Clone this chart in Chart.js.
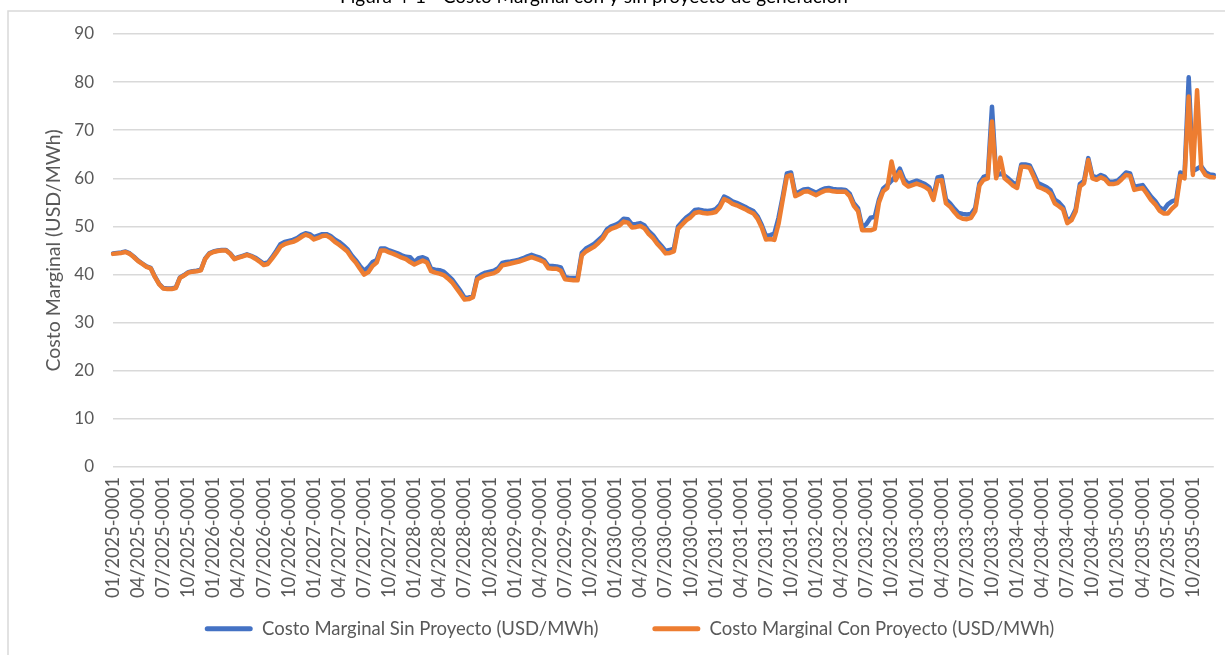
<!DOCTYPE html>
<html><head><meta charset="utf-8">
<script src="https://cdn.jsdelivr.net/npm/chart.js@4.4.1/dist/chart.umd.min.js"></script>
<style>html,body{margin:0;padding:0;background:#fff}#wrap{width:1225px;height:655px;position:relative}</style>
</head><body><div id="wrap"><canvas id="c" width="1225" height="655"></canvas></div>
<script>
const titleText = 'Figura 4-1 - Costo Marginal con y sin proyecto de generación';
const yTitle = 'Costo Marginal (USD/MWh)';
const labelSin = 'Costo Marginal Sin Proyecto (USD/MWh)';
const labelCon = 'Costo Marginal Con Proyecto (USD/MWh)';
const years = [2025,2026,2027,2028,2029,2030,2031,2032,2033,2034,2035];
const months = ['01','02','03','04','05','06','07','08','09','10','11','12'];
const blocks = ['0001','0002'];
const yTicks = [0,10,20,30,40,50,60,70,80,90];

// semi-monthly values, 2025 .. 2035 (24 per year)
const sinProyecto = [
 44.4,44.5,44.6,44.8,44.4,43.7,42.9,42.3,41.7,41.4,39.6,38.1,37.2,37.1,37.1,37.3,39.4,39.9,40.5,40.7,40.8,41.0,43.3,44.4,
 44.8,45.0,45.1,45.1,44.4,43.3,43.6,43.9,44.2,43.9,43.5,42.9,42.3,42.5,43.6,44.9,46.3,46.8,47.0,47.2,47.6,48.2,48.6,48.4,
 47.8,48.1,48.4,48.4,48.0,47.3,46.8,46.1,45.3,44.0,43.0,41.8,40.8,41.5,42.6,43.0,45.4,45.4,45.0,44.7,44.4,44.0,43.7,43.6,
 42.6,43.4,43.6,43.2,41.2,41.0,40.9,40.6,39.8,39.0,37.8,36.6,35.2,35.2,35.6,39.4,40.0,40.4,40.6,40.8,41.3,42.4,42.6,42.7,
 42.9,43.1,43.4,43.8,44.1,43.8,43.5,43.0,41.8,41.8,41.7,41.5,39.5,39.3,39.3,39.3,44.5,45.4,45.9,46.4,47.2,48.0,49.4,50.0,
 50.3,50.8,51.6,51.5,50.4,50.5,50.7,50.2,49.0,48.2,47.0,46.0,44.9,45.1,45.4,50.0,51.0,51.9,52.5,53.4,53.5,53.3,53.2,53.3,
 53.6,54.5,56.2,55.8,55.2,54.9,54.5,54.1,53.6,53.2,52.1,50.3,48.0,48.2,48.5,51.8,56.2,61.0,61.2,56.8,57.2,57.7,57.8,57.4,
 57.0,57.5,57.9,58.0,57.8,57.7,57.7,57.6,56.8,54.8,53.8,49.8,50.5,51.8,52.0,55.6,57.9,58.6,59.5,60.5,62.0,59.8,58.9,59.2,
 59.5,59.2,58.8,58.2,56.2,60.2,60.4,55.6,54.8,53.7,52.8,52.6,52.5,52.6,53.8,59.0,60.3,60.6,74.9,60.5,61.0,60.6,59.9,59.1,
 58.6,62.9,62.9,62.7,60.9,59.0,58.6,58.2,57.5,55.6,55.0,54.0,51.2,51.8,53.6,58.8,59.5,64.2,60.5,60.2,60.7,60.3,59.3,59.3,
 59.5,60.3,61.2,61.0,58.2,58.4,58.6,57.4,56.2,55.3,54.0,53.4,54.6,55.2,55.5,61.2,60.7,81.0,61.5,62.0,62.5,61.3,60.8,60.7
];
const conProyecto = [
 44.3,44.4,44.5,44.7,44.3,43.6,42.8,42.2,41.6,41.3,39.5,38.0,37.1,37.0,37.0,37.2,39.3,39.8,40.4,40.6,40.7,40.9,43.2,44.3,
 44.7,44.9,45.0,45.0,44.3,43.2,43.5,43.8,44.1,43.8,43.3,42.7,42.0,42.2,43.3,44.5,45.8,46.3,46.6,46.8,47.2,47.8,48.3,48.0,
 47.3,47.6,48.0,48.1,47.6,46.8,46.2,45.5,44.8,43.5,42.5,41.2,40.0,40.5,41.8,42.5,45.0,45.0,44.6,44.3,43.9,43.5,43.2,42.6,
 42.1,42.5,42.9,42.5,40.7,40.4,40.2,39.9,39.2,38.4,37.2,36.0,34.8,34.9,35.3,39.0,39.5,39.9,40.1,40.3,40.8,41.9,42.1,42.3,
 42.5,42.7,43.0,43.3,43.6,43.3,43.0,42.6,41.3,41.2,41.2,40.8,39.0,38.9,38.8,38.8,44.0,44.8,45.3,45.8,46.6,47.5,48.9,49.5,
 49.8,50.2,51.0,50.8,49.8,49.9,50.1,49.6,48.4,47.6,46.4,45.5,44.4,44.5,44.8,49.5,50.4,51.3,51.9,52.8,53.0,52.8,52.7,52.8,
 53.0,54.0,55.7,55.3,54.7,54.4,54.0,53.6,53.1,52.7,51.6,49.8,47.3,47.4,47.2,50.5,55.5,60.4,60.7,56.3,56.7,57.2,57.3,56.9,
 56.5,57.0,57.4,57.5,57.3,57.2,57.2,57.2,56.3,54.3,53.2,49.2,49.2,49.2,49.5,55.0,57.3,58.0,63.5,59.6,61.3,59.0,58.3,58.6,
 58.9,58.6,58.2,57.6,55.5,59.5,59.6,54.8,54.1,53.0,52.0,51.6,51.5,51.8,53.2,58.5,59.7,60.0,71.8,60.0,64.3,60.0,59.3,58.5,
 58.0,62.4,62.4,62.2,60.3,58.2,57.9,57.5,56.8,54.8,54.2,53.5,50.7,51.3,53.1,58.3,59.0,63.8,60.0,59.7,60.2,59.8,58.8,58.8,
 59.0,59.8,60.7,60.5,57.6,57.8,58.0,56.8,55.5,54.6,53.3,52.7,52.7,53.7,54.5,60.5,60.0,77.0,60.7,78.3,62.1,60.7,60.3,60.2
];

const categories = [];
years.forEach(y => months.forEach(m => blocks.forEach(b => categories.push(m + '/' + y + '-' + b))));

const gray = '#595959';
const blue = '#4472C4';
const orange = '#ED7D31';

const framePlugin = {
  id: 'frame',
  afterLayout(chart) {
    // place the legend row below the rotated labels
    const lg = chart.legend;
    if (lg) {
      lg.top = 565.5;
      lg.bottom = chart.height;
      lg.height = lg.bottom - lg.top;
    }
  },
  beforeDraw(chart) {
    const ctx = chart.ctx;
    ctx.save();
    ctx.fillStyle = '#fff';
    ctx.fillRect(0, 0, chart.width, chart.height);
    ctx.strokeStyle = '#d9d9d9';
    ctx.lineWidth = 1.5;
    ctx.beginPath();
    ctx.moveTo(8, chart.height + 5);
    ctx.lineTo(8, 11);
    ctx.lineTo(chart.width + 5, 11);
    ctx.stroke();
    ctx.fillStyle = '#000';
    ctx.font = '19px Lato';
    ctx.textAlign = 'left';
    ctx.textBaseline = 'alphabetic';
    ctx.fillText(titleText, 340, 3);
    ctx.restore();
  }
};

new Chart(document.getElementById('c'), {
  type: 'line',
  data: {
    labels: categories,
    datasets: [
      { label: labelSin, data: sinProyecto, borderColor: blue, backgroundColor: blue, borderWidth: 4.5, pointRadius: 0, tension: 0, order: 2, borderJoinStyle: 'round', borderCapStyle: 'round' },
      { label: labelCon, data: conProyecto, borderColor: orange, backgroundColor: orange, borderWidth: 4.5, pointRadius: 0, tension: 0, order: 1, borderJoinStyle: 'round', borderCapStyle: 'round' }
    ]
  },
  options: {
    responsive: false,
    animation: false,
    devicePixelRatio: 1,
    layout: { padding: { left: 42, right: 8, top: 34, bottom: 0 } },
    plugins: {
      tooltip: { enabled: false },
      legend: {
        position: 'bottom',
        maxHeight: 48,
        labels: {
          boxWidth: 48, boxHeight: 5, padding: 54, color: gray,
          font: { family: 'Lato', size: 18.5 },
          useBorderRadius: true, borderRadius: 2.5,
          generateLabels: chart => chart.data.datasets.map((d, i) => ({
            text: d.label, fillStyle: d.borderColor, strokeStyle: d.borderColor, lineWidth: 0,
            datasetIndex: i, hidden: false, borderRadius: 2.5, fontColor: gray
          }))
        }
      }
    },
    scales: {
      x: {
        type: 'category',
        grid: { display: false, drawTicks: false },
        border: { display: false },
        ticks: {
          autoSkip: false, minRotation: 90, maxRotation: 90, padding: 10, color: gray,
          font: { family: 'Lato', size: 18.3 },
          callback: function (v, i) { return i % 6 === 0 ? categories[i] : null; }
        },
        afterFit: s => { s.height = 140; }
      },
      y: {
        min: 0, max: 90,
        afterBuildTicks: s => { s.ticks = yTicks.map(v => ({ value: v })); },
        ticks: { padding: 19, color: gray, font: { family: 'Lato', size: 17 } },
        grid: { color: '#d9d9d9', lineWidth: 1.5, drawTicks: false },
        border: { display: false },
        title: { display: true, text: yTitle, color: gray, font: { family: 'Lato', size: 19.5 }, padding: { top: 0, bottom: 0 } },
        afterFit: s => { s.width = 71; }
      }
    }
  },
  plugins: [framePlugin]
});
</script>
</body></html>
